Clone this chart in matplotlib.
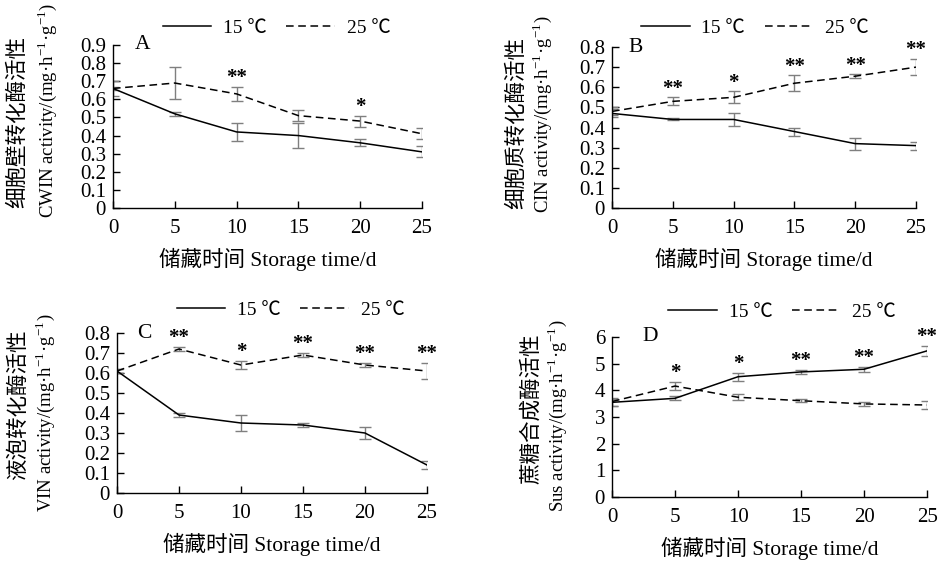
"""Invertase and sucrose synthase activity during storage at 15 and 25 degC."""

import matplotlib

matplotlib.use("Agg")
import matplotlib.pyplot as plt

plt.rcParams["font.family"] = ["Liberation Serif", "Noto Sans CJK SC", "DejaVu Serif"]
plt.rcParams["mathtext.fontset"] = "stix"

days = [0, 5, 10, 15, 20, 25]

cwin_15 = [0.66, 0.52, 0.42, 0.40, 0.36, 0.31]
cwin_15_err = [0.01, 0.01, 0.05, 0.07, 0.02, 0.03]
cwin_25 = [0.66, 0.69, 0.63, 0.51, 0.48, 0.41]
cwin_25_err = [0.04, 0.09, 0.04, 0.03, 0.03, 0.03]
cwin_marks = ["", "", "**", "", "*", ""]

cin_15 = [0.47, 0.44, 0.44, 0.38, 0.32, 0.31]
cin_15_err = [0.02, 0.005, 0.03, 0.02, 0.03, 0.02]
cin_25 = [0.48, 0.53, 0.55, 0.62, 0.655, 0.70]
cin_25_err = [0.02, 0.02, 0.03, 0.04, 0.01, 0.04]
cin_marks = ["", "**", "*", "**", "**", "**"]

vin_15 = [0.61, 0.39, 0.35, 0.34, 0.30, 0.14]
vin_15_err = [0.01, 0.01, 0.04, 0.01, 0.03, 0.02]
vin_25 = [0.61, 0.72, 0.64, 0.69, 0.64, 0.61]
vin_25_err = [0.01, 0.01, 0.02, 0.01, 0.01, 0.04]
vin_marks = ["", "**", "*", "**", "**", "**"]

sus_15 = [3.55, 3.70, 4.51, 4.69, 4.79, 5.48]
sus_15_err = [0.12, 0.08, 0.15, 0.07, 0.10, 0.20]
sus_25 = [3.58, 4.16, 3.74, 3.61, 3.49, 3.45]
sus_25_err = [0.15, 0.15, 0.12, 0.05, 0.08, 0.15]
sus_marks = ["", "*", "*", "**", "**", "**"]

UNIT = r"/(mg·h$^{\mathregular{-1}}$·g$^{\mathregular{-1}}$)"

panels = [
    ("A", "细胞壁转化酶活性", "CWIN activity" + UNIT, cwin_15, cwin_15_err, cwin_25, cwin_25_err,
     cwin_marks, 0.9, [0, 0.1, 0.2, 0.3, 0.4, 0.5, 0.6, 0.7, 0.8, 0.9]),
    ("B", "细胞质转化酶活性", "CIN activity" + UNIT, cin_15, cin_15_err, cin_25, cin_25_err,
     cin_marks, 0.8, [0, 0.1, 0.2, 0.3, 0.4, 0.5, 0.6, 0.7, 0.8]),
    ("C", "液泡转化酶活性", "VIN activity" + UNIT, vin_15, vin_15_err, vin_25, vin_25_err,
     vin_marks, 0.8, [0, 0.1, 0.2, 0.3, 0.4, 0.5, 0.6, 0.7, 0.8]),
    ("D", "蔗糖合成酶活性", "Sus activity" + UNIT, sus_15, sus_15_err, sus_25, sus_25_err,
     sus_marks, 6, [0, 1, 2, 3, 4, 5, 6]),
]

# axes boxes in figure fraction; the rest in axes fraction
boxes = [
    [0.1203, 0.6292, 0.3291, 0.2906],
    [0.6518, 0.6292, 0.3237, 0.2870],
    [0.1246, 0.1212, 0.3301, 0.2852],
    [0.6518, 0.1141, 0.3355, 0.2852],
]
legend_xy = [(0.53, 1.104), (0.47, 1.118), (0.56, 1.144), (0.54, 1.156)]
letter_x = [0.07, 0.053, 0.065, 0.098]
cn_xy = [(-0.307, 0.53), (-0.313, 0.53), (-0.316, 0.55), (-0.254, 0.55)]
en_xy = [(-0.214, 0.60), (-0.230, 0.58), (-0.232, 0.50), (-0.175, 0.51)]

ERR_COLOR = "#7f7f7f"
TICK_SIZE = 15
LABEL_SIZE = 15.5

fig = plt.figure(figsize=(9.39, 5.61), dpi=100)

for i, (letter, cn_label, en_label, y15, e15, y25, e25, marks, ymax, yticks) in enumerate(panels):
    ax = fig.add_axes(boxes[i])
    ax.errorbar(days, y15, yerr=e15, color="black", ecolor=ERR_COLOR, elinewidth=1.0,
                capsize=4, capthick=1.0, linewidth=1.1, label="15 ℃")
    ax.errorbar(days, y25, yerr=e25, color="black", ecolor=ERR_COLOR, elinewidth=1.0,
                capsize=4, capthick=1.0, linewidth=1.1, linestyle=(0, (5, 3)), label="25 ℃")

    for x, a, ea, b, eb, m in zip(days, y15, e15, y25, e25, marks):
        if m:
            top = max(a + ea, b + eb)
            ax.annotate(m, (x, top), xytext=(0, -1), textcoords="offset points",
                        ha="center", va="bottom", fontsize=15, fontweight="bold",
                        annotation_clip=False)

    ax.set_xlim(0, 25)
    ax.set_ylim(0, ymax)
    ax.set_xticks(days)
    ax.set_yticks(yticks)
    ax.set_yticklabels([f"{t:g}" for t in yticks])
    ax.tick_params(direction="in", length=5, width=1.0, labelsize=TICK_SIZE)
    ax.tick_params(axis="x", pad=8)
    ax.tick_params(axis="y", pad=5)
    for side in ("top", "right"):
        ax.spines[side].set_visible(False)
    for side in ("left", "bottom"):
        ax.spines[side].set_linewidth(1.0)

    ax.set_xlabel("储藏时间 Storage time/d", fontsize=LABEL_SIZE, labelpad=7)
    ax.text(*cn_xy[i], cn_label, transform=ax.transAxes, rotation=90,
            ha="center", va="center", fontsize=15.5)
    ax.text(*en_xy[i], en_label, transform=ax.transAxes, rotation=90,
            ha="center", va="center", fontsize=13.5)
    ax.text(letter_x[i], 1.0, letter, transform=ax.transAxes, ha="left", va="center",
            fontsize=LABEL_SIZE)

    handles, labels = ax.get_legend_handles_labels()
    handles = [h[0] for h in handles]
    ax.legend(handles, labels, loc="center", bbox_to_anchor=legend_xy[i], ncol=2,
              frameon=False, fontsize=14, handlelength=2.5, handletextpad=0.6,
              columnspacing=1.0, borderaxespad=0)

fig.savefig("out.png", dpi=100)
